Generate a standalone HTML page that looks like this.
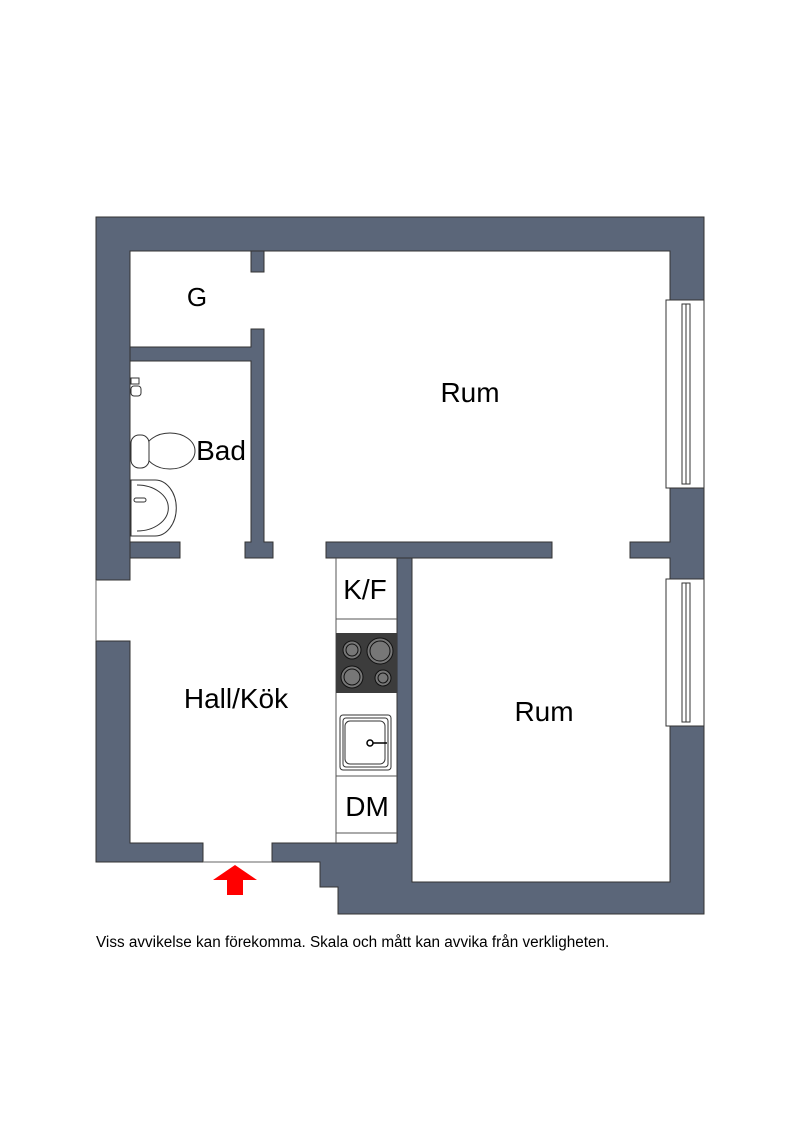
<!DOCTYPE html>
<html><head><meta charset="utf-8"><style>
html,body{margin:0;padding:0;background:#fff;width:800px;height:1131px;overflow:hidden}
svg{display:block}
text{font-family:"Liberation Sans",sans-serif;fill:#000}
</style></head><body>
<svg width="800" height="1131" viewBox="0 0 800 1131" xmlns="http://www.w3.org/2000/svg">
<g fill="#5b6679" stroke="#333" stroke-width="1">
<path d="M96,217 H704 V300 H670 V251 H130 V580 H96 Z"/>
<path d="M670,488 H704 V579 H670 V558 H630 V542 H670 Z"/>
<path d="M670,726 H704 V914 H338 V887 H320 V862 H272 V843 H397 V558 H412 V882 H670 Z"/>
<path d="M96,641 H130 V843 H203 V862 H96 Z"/>
<rect x="251" y="251" width="13" height="21"/>
<path d="M130,347 H251 V329 H264 V542 H273 V558 H245 V542 H251 V361 H130 Z"/>
<rect x="130" y="542" width="50" height="16"/>
<rect x="326" y="542" width="226" height="16"/>
</g>
<line x1="96" y1="580" x2="96" y2="641" stroke="#666"/>
<line x1="203" y1="862" x2="272" y2="862" stroke="#666"/>
<g fill="#fff" stroke="#333" stroke-width="1">
<rect x="666" y="300" width="38" height="188"/>
<rect x="682" y="304" width="8" height="180"/>
<line x1="686" y1="304" x2="686" y2="484"/>
<rect x="666" y="579" width="38" height="147"/>
<rect x="682" y="583" width="8" height="139"/>
<line x1="686" y1="583" x2="686" y2="722"/>
</g>
<g stroke="#555" fill="none">
<line x1="336" y1="558" x2="336" y2="843"/>
<line x1="336" y1="619" x2="397" y2="619"/>
<line x1="336" y1="776" x2="397" y2="776"/>
<line x1="336" y1="833" x2="397" y2="833"/>
</g>
<rect x="336" y="633" width="61" height="60" fill="#3c3c3c"/>
<g fill="#777" stroke="#111">
<circle cx="352" cy="650" r="9"/><circle cx="352" cy="650" r="6"/>
<circle cx="380" cy="651" r="13"/><circle cx="380" cy="651" r="10"/>
<circle cx="352" cy="677" r="11"/><circle cx="352" cy="677" r="8"/>
<circle cx="383" cy="678" r="8"/><circle cx="383" cy="678" r="5"/>
</g>
<rect x="340" y="715" width="51" height="55" rx="3" fill="#fff" stroke="#333"/>
<rect x="343" y="718" width="45" height="49" rx="3" fill="none" stroke="#333"/>
<rect x="345" y="721" width="40" height="43" rx="5" fill="none" stroke="#333"/>
<circle cx="370" cy="743" r="3" fill="#fff" stroke="#000" stroke-width="1.5"/>
<line x1="373" y1="743" x2="387" y2="743" stroke="#000" stroke-width="1.5"/>
<g fill="#fff" stroke="#333">
<ellipse cx="170" cy="451" rx="25" ry="18"/>
<rect x="131" y="435" width="18" height="33" rx="8"/>
<path d="M131,480 H155 A19,25 0 0 1 155,536 L131,536 Z"/>
<path d="M137,485 A30,22 0 0 1 137,531" fill="none"/>
<rect x="134" y="498" width="12" height="4" rx="2"/>
<rect x="131" y="378" width="8" height="6"/><rect x="131" y="386" width="10" height="10" rx="3"/>
</g>
<path d="M235,865 L257,880 H243 V895 H227 V880 H213 Z" fill="#f00"/>
<text x="197" y="306" font-size="26" text-anchor="middle">G</text>
<text x="470" y="402" font-size="28" text-anchor="middle">Rum</text>
<text x="221" y="460" font-size="28" text-anchor="middle">Bad</text>
<text x="365" y="599" font-size="28" text-anchor="middle">K/F</text>
<text x="236" y="708" font-size="28" text-anchor="middle">Hall/Kök</text>
<text x="544" y="721" font-size="28" text-anchor="middle">Rum</text>
<text x="367" y="816" font-size="28" text-anchor="middle">DM</text>
<text x="96" y="947" font-size="15.3">Viss avvikelse kan förekomma. Skala och mått kan avvika från verkligheten.</text>
</svg>
</body></html>
